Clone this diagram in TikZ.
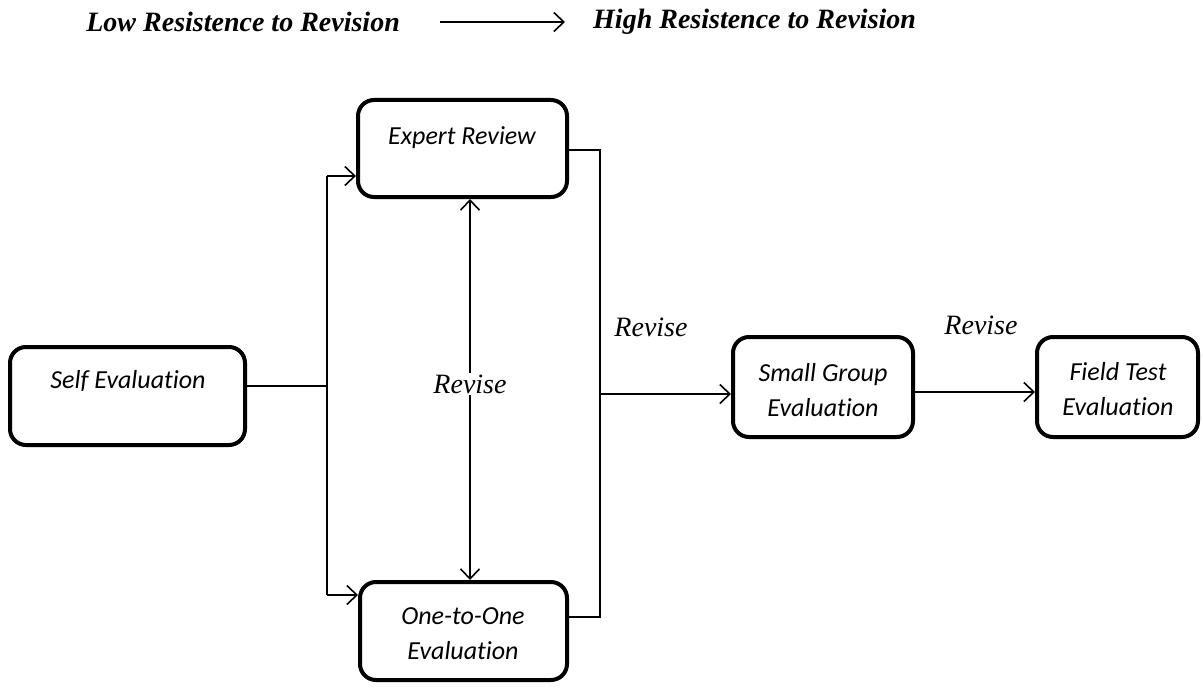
\documentclass[tikz,border=0pt]{standalone}
\usepackage{fontspec}
\setmainfont{Liberation Serif}
\newfontfamily\boxfont[Ligatures=NoCommon]{Carlito}
\usetikzlibrary{arrows.meta}
\begin{document}
\begin{tikzpicture}[x=1pt,y=-1pt,
  procbox/.style={draw=black, line width=4pt, rounded corners=16pt, inner sep=0pt},
  boxtext/.style={font=\boxfont\itshape\fontsize{26}{35}\selectfont, align=center, inner sep=0pt},
  revlabel/.style={font=\itshape\fontsize{28}{32}\selectfont, inner sep=2pt},
  toptext/.style={font=\bfseries\itshape\fontsize{28}{32}\selectfont, inner sep=0pt},
  conn/.style={line width=1.3pt},
  arr/.style={conn, -{Straight Barb[length=10pt,width=19pt,line width=1.6pt]}},
  darr/.style={conn, {Straight Barb[length=10pt,width=19pt,line width=1.6pt]}-{Straight Barb[length=10pt,width=19pt,line width=1.6pt]}}
]
\useasboundingbox (0,0) rectangle (1203,693);

% top line
\node[toptext, anchor=east] (low) at (400,22) {Low Resistence to Revision};
\node[toptext, anchor=west] (high) at (593,22) {High Resistence to Revision};
\coordinate (ta) at (440,22);
\coordinate (tb) at (565,22);
\draw[arr] (ta) -- (tb);

% boxes
\node[procbox, minimum width=235pt, minimum height=98pt] (self) at (127.5,396) {};
\node[procbox, minimum width=209pt, minimum height=97pt] (expert) at (462.5,148.5) {};
\node[procbox, minimum width=207pt, minimum height=98pt] (one) at (463.5,631) {};
\node[procbox, minimum width=180pt, minimum height=100pt] (small) at (823,387) {};
\node[procbox, minimum width=161pt, minimum height=100pt] (field) at (1117.5,387) {};

% box texts
\node[boxtext] (selft) at (128,381) {Self Evaluation};
\node[boxtext] (expertt) at (462,138) {Expert Review};
\node[boxtext] (onet) at (463,634) {One-to-One\\Evaluation};
\node[boxtext] (smallt) at (823,390) {Small Group\\Evaluation};
\node[boxtext] (fieldt) at (1118,389) {Field Test\\Evaluation};

% left bus
\coordinate (lb) at (327,386);
\coordinate (lbt) at (327,176);
\coordinate (lbb) at (327,595);
\draw[conn] (self.east |- lb) -- (lb);
\draw[conn] (lbt) -- (lbb);
\draw[arr] (lbt) -- (expert.west |- lbt);
\draw[arr] (lbb) -- (one.west |- lbb);

% right bus
\coordinate (rbt) at (600,150);
\coordinate (rbb) at (600,617);
\coordinate (rbm) at (600,394);
\draw[conn] (expert.east |- rbt) -- (rbt) -- (rbb) -- (one.east |- rbb);
\draw[arr] (rbm) -- (small.west |- rbm);

% double arrow
\coordinate (dx) at (470,0);
\draw[darr] (expert.south -| dx) -- (one.north -| dx);
\node[revlabel, fill=white] (rev1) at (470,384) {Revise};

% small -> field
\coordinate (sf) at (0,392);
\draw[arr] (small.east |- sf) -- (field.west |- sf);

\node[revlabel] (rev2) at (651,327) {Revise};
\node[revlabel] (rev3) at (981,325) {Revise};
\end{tikzpicture}
\end{document}
